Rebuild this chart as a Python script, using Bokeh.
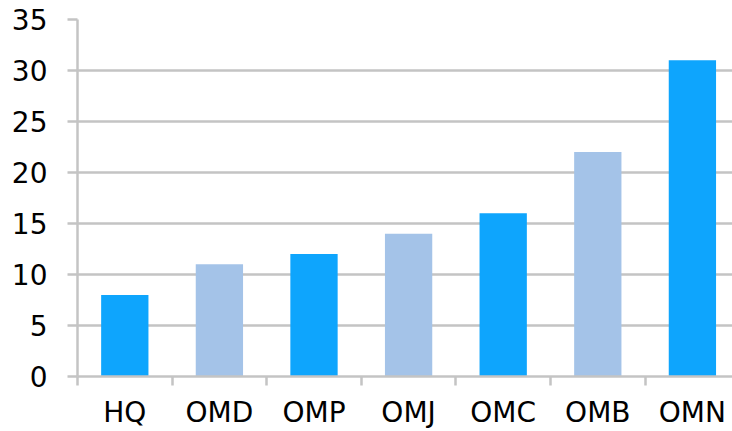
from bokeh.plotting import figure
from bokeh.models import ColumnDataSource, Range1d, FixedTicker
from bokeh.embed import file_html
from bokeh.resources import INLINE

categories = ["HQ", "OMD", "OMP", "OMJ", "OMC", "OMB", "OMN"]
values = [8, 11, 12, 14, 16, 22, 31]
colors = ["#0ea5fd", "#a4c3e8", "#0ea5fd", "#a4c3e8", "#0ea5fd", "#a4c3e8", "#0ea5fd"]
y_ticks = [0, 5, 10, 15, 20, 25, 30, 35]

xs = list(range(len(categories)))
src = ColumnDataSource(dict(x=xs, top=values, color=colors))

W, H = 732, 431
LEFT = 77
p = figure(width=W, height=H, output_backend="svg", toolbar_location=None,
           x_range=Range1d(-0.5, -0.5 + (W - LEFT) / 94.6), y_range=Range1d(0, 35),
           min_border_left=LEFT, min_border_right=0, min_border_top=19, min_border_bottom=55)
p.outline_line_color = None
p.background_fill_color = "white"
p.border_fill_color = "white"

p.vbar(x="x", top="top", width=0.5, bottom=0, fill_color="color", line_color=None, source=src)

grid_col = "#c4c4c4"
p.xgrid.grid_line_color = None
p.ygrid.grid_line_color = grid_col
p.ygrid.grid_line_width = 2.5

p.xaxis.ticker = FixedTicker(ticks=xs, minor_ticks=[i - 0.5 for i in range(len(categories) + 1)])
p.xaxis.major_label_overrides = {i: c for i, c in enumerate(categories)}
p.xaxis.major_tick_line_color = None
p.xaxis.minor_tick_line_color = grid_col
p.xaxis.minor_tick_line_width = 2.5
p.xaxis.minor_tick_out = 9
p.xaxis.minor_tick_in = 0
p.xaxis.axis_line_color = grid_col
p.xaxis.axis_line_width = 2.5
p.xaxis.major_label_standoff = 10
p.xaxis.major_label_text_font = "DejaVu Sans"
p.xaxis.major_label_text_font_size = "28px"
p.xaxis.major_label_text_color = "black"

p.yaxis.ticker = FixedTicker(ticks=y_ticks)
p.yaxis.major_tick_line_color = grid_col
p.yaxis.major_tick_line_width = 2.5
p.yaxis.major_tick_out = 10
p.yaxis.major_tick_in = 0
p.yaxis.minor_tick_line_color = None
p.yaxis.axis_line_color = grid_col
p.yaxis.axis_line_width = 2.5
p.yaxis.major_label_standoff = 20
p.yaxis.major_label_text_font = "DejaVu Sans"
p.yaxis.major_label_text_font_size = "28px"
p.yaxis.major_label_text_color = "black"

open("out.html", "w").write(file_html(p, INLINE))
